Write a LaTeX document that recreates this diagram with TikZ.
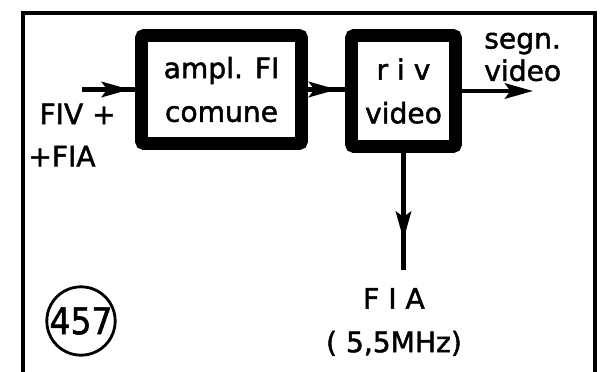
\documentclass[tikz,border=0pt]{standalone}
\usepackage{fontspec}
\setmainfont[FakeBold=1.6]{DejaVu Sans}
\newfontfamily\condfont[FakeBold=1.6]{DejaVu Sans Condensed}
\usepackage{tikz}
\usetikzlibrary{arrows.meta, decorations.markings, positioning}

\tikzset{
  blk/.style={draw, line width=9.2pt, rounded corners=2pt, align=center,
    inner sep=0pt, font=\fontsize{20}{31}\selectfont},
  lbl/.style={inner sep=0pt, font=\fontsize{20}{31}\selectfont},
  sig/.style={line width=3pt},
  tipat/.style={sig, postaction=decorate, decoration={markings,
    mark=at position #1 with {\arrow{Stealth[length=20pt,width=11pt,inset=4pt]}}}}
}

\begin{document}
\begin{tikzpicture}[x=0.025cm, y=-0.025cm]
    \useasboundingbox (0,0) rectangle (600,372);
    % Khung ngoài
    \draw[line width=2.2pt] (23,372) -- (23,13) -- (595,13) -- (595,372);

    % Các khối
    \node[blk, minimum width=4cm, minimum height=2.7cm] (ampl) at (221.5,89.5) {ampl. FI\\comune};
    \node[blk, minimum width=2.6cm, minimum height=2.775cm] (riv) at (403.5,91) {r i v\\video};

    % Các điểm đầu, cuối
    \coordinate (in) at (82,89.5);
    \coordinate (out) at (533,91);
    \path (riv.south) ++(0,117) coordinate (fiaend);

    % Mũi tên
    \draw[tipat=0.9] (in) -- (ampl.west);
    \draw[tipat=0.78] (ampl.east) -- (ampl.east -| riv.west);
    \draw[sig, -{Stealth[length=20pt,width=11pt,inset=4pt]}] (riv.east) -- (out);
    \draw[tipat=0.74] (riv.south) -- (fiaend);

    % Nhãn
    \node[lbl, align=left, anchor=west, font=\fontsize{20}{30}\selectfont] (fiv) at (28,135) {\hspace*{8pt}FIV +\\+FIA};
    \node[lbl, align=left, anchor=west, font=\fontsize{20}{23}\selectfont] (segn) at (484,57) {segn.\\video};
    \node[lbl, align=center] (fia) at (394,322) {F I A\\( 5,5MHz)};
    \node[draw, circle, line width=2pt, minimum size=1.7cm, inner sep=0pt,
      font=\condfont\fontsize{26}{26}\selectfont] (num) at (81,321) {457};
\end{tikzpicture}
\end{document}
